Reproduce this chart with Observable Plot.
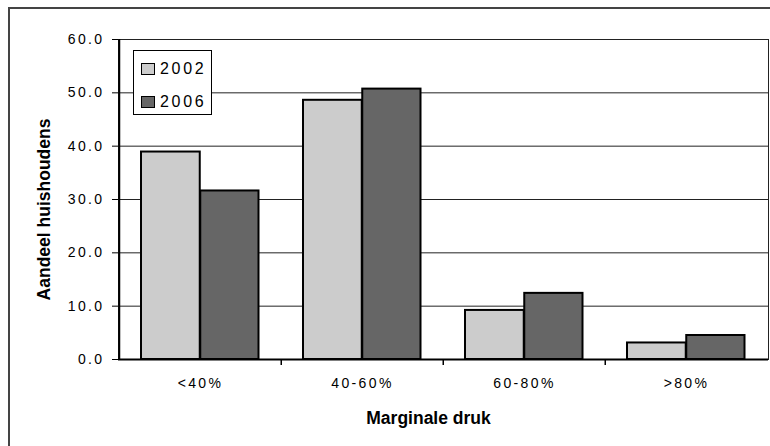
<!DOCTYPE html>
<html>
<head>
<meta charset="utf-8">
<script src="https://cdn.jsdelivr.net/npm/d3@7"></script>
<script src="https://cdn.jsdelivr.net/npm/@observablehq/plot@0.6"></script>
<style>
  html, body { margin: 0; padding: 0; background: #fff; overflow: hidden; }
  #wrap { position: relative; width: 770px; height: 446px; overflow: hidden; font-family: "Liberation Sans", Arial, sans-serif; }
  #outer { position: absolute; left: 8px; top: 7px; width: 900px; height: 600px; border: 2px solid #444; box-sizing: border-box; pointer-events: none; }
  #chart { position: absolute; left: 0; top: 0; }
  #chart svg text { font-size: 14px; letter-spacing: 0.17em; fill: #000; }
  #chart svg g[aria-label="text"] text { font-size: 17.5px; font-weight: bold; letter-spacing: 0; }
  #legend { position: absolute; left: 133px; top: 50px; width: 79px; height: 65px; box-sizing: border-box; border: 1px solid #000; background: #fff; }
  .item { position: absolute; left: 7px; height: 16px; display: flex; align-items: center; font-size: 16px; letter-spacing: 0.17em; color: #000; }
  .sw { width: 14px; height: 12px; box-sizing: border-box; border: 1.5px solid #000; margin-right: 5px; }
</style>
</head>
<body>
<div id="wrap">
  <div id="chart"></div>
  <div id="legend"></div>
  <div id="outer"></div>
</div>
<script>
const categories = ["<40%", "40-60%", "60-80%", ">80%"];
const series = ["2002", "2006"];
const values2002 = [38.9, 48.6, 9.2, 3.1];
const values2006 = [31.6, 50.7, 12.4, 4.5];
const yTicks = [0, 10, 20, 30, 40, 50, 60];
const xTitle = "Marginale druk";
const yTitle = "Aandeel huishoudens";
const colors = {"2002": "#cccccc", "2006": "#666666"};

const W = 770, H = 446, mL = 118, mR = 2, mT = 39, mB = 87;
const bw = (W - mL - mR) / categories.length;
const plotH = H - mT - mB;

const d2002 = categories.map((c, i) => ({cat: c, v: values2002[i]}));
const d2006 = categories.map((c, i) => ({cat: c, v: values2006[i]}));

const chart = Plot.plot({
  width: W, height: H,
  marginLeft: mL, marginRight: mR, marginTop: mT, marginBottom: mB,
  style: {fontFamily: "'Liberation Sans', Arial, sans-serif", fontSize: "14px", color: "#000", background: "transparent"},
  x: {type: "band", domain: categories, padding: 0, tickSize: 0, tickPadding: 19, label: null},
  y: {domain: [0, 60], ticks: yTicks, tickFormat: d3.format(".1f"), tickSize: 6, tickPadding: 8, label: null},
  marks: [
    Plot.ruleY(yTicks, {stroke: "#222", strokeWidth: 1}),
    Plot.frame({stroke: "#222", strokeWidth: 1}),
    Plot.barY(d2002, {x: "cat", y: "v", fill: colors["2002"], stroke: "#000", strokeWidth: 2, insetLeft: 22, insetRight: 81.25}),
    Plot.barY(d2006, {x: "cat", y: "v", fill: colors["2006"], stroke: "#000", strokeWidth: 2, insetLeft: 81.25, insetRight: 22.5}),
    Plot.ruleY([0], {stroke: "#000", strokeWidth: 2}),
    Plot.ruleX([categories[0]], {x: d => d, dx: -bw / 2, stroke: "#000", strokeWidth: 2}),
    Plot.ruleX(categories.slice(1), {x: d => d, dx: -bw / 2, insetTop: plotH, insetBottom: -6, stroke: "#000", strokeWidth: 1.5}),
    Plot.text([xTitle], {frameAnchor: "bottom", text: d => d, textAnchor: "middle", lineAnchor: "bottom", dy: 64, dx: -15, fontSize: 17.5, fontWeight: "bold"}),
    Plot.text([yTitle], {frameAnchor: "left", text: d => d, textAnchor: "middle", rotate: -90, lineAnchor: "bottom", dx: -69, dy: 10, fontSize: 17.5, fontWeight: "bold"})
  ]
});
document.getElementById("chart").appendChild(chart);

const legend = document.getElementById("legend");
series.forEach((s, i) => {
  const item = document.createElement("div");
  item.className = "item";
  item.style.top = (10 + i * 33) + "px";
  const sw = document.createElement("div");
  sw.className = "sw";
  sw.style.background = colors[s];
  const label = document.createElement("span");
  label.textContent = s;
  item.appendChild(sw);
  item.appendChild(label);
  legend.appendChild(item);
});
</script>
</body>
</html>
